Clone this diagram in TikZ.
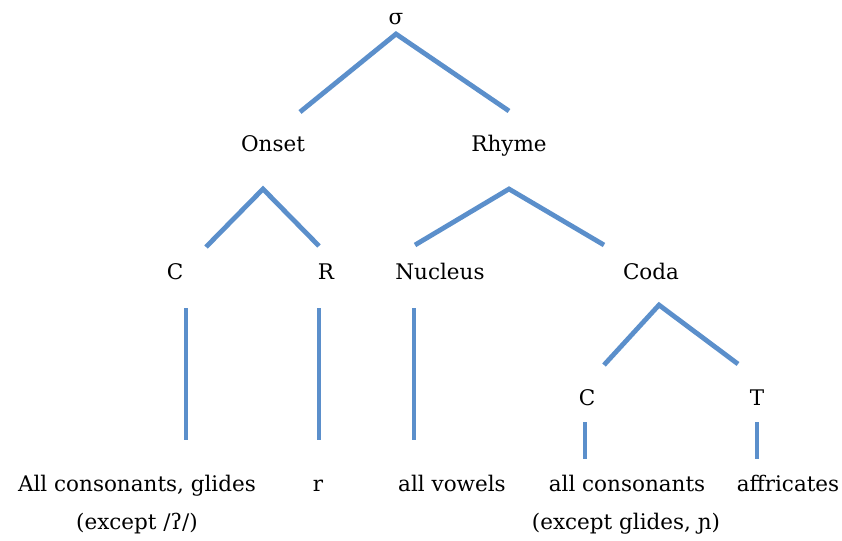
\documentclass[tikz,border=0pt]{standalone}
\usepackage{fontspec}
\setmainfont{DejaVu Serif}
\begin{document}
\begin{tikzpicture}[x=1pt,y=-1pt]
\definecolor{treeblue}{HTML}{5B8FCB}
\tikzset{
  branch/.style={draw=treeblue, line width=4.8pt},
  lbl/.style={inner sep=0pt, font=\fontsize{21.5}{24}\selectfont, anchor=base},
}
\useasboundingbox (0,0) rectangle (842,540);

% labels
\node[lbl] (sigma) at (396,25) {σ};
\node[lbl] (onset) at (273,152) {Onset};
\node[lbl] (rhyme) at (509,152) {Rhyme};
\node[lbl] (c1) at (175,279) {C};
\node[lbl] (r1) at (326,279) {R};
\node[lbl] (nuc) at (440,279) {Nucleus};
\node[lbl] (coda) at (651,279) {Coda};
\node[lbl] (c2) at (587,405) {C};
\node[lbl] (t2) at (757,405) {T};
\node[lbl] (allc) at (137,491) {All consonants, glides};
\node[lbl] (exc1) at (137,529) {(except /ʔ/)};
\node[lbl] (rr) at (318,491) {r};
\node[lbl] (vow) at (452,491) {all vowels};
\node[lbl] (allc2) at (627,491) {all consonants};
\node[lbl] (aff) at (788,491) {affricates};
\node[lbl] (exc2) at (626,529) {(except glides, ɲ)};

% branch points
\coordinate (sA) at (396,34);
\coordinate (sL) at (300,112);
\coordinate (sR) at (509,111);
\coordinate (oA) at (263,189);
\coordinate (oL) at (206,247);
\coordinate (oR) at (319,246);
\coordinate (rA) at (509,189);
\coordinate (rL) at (415,245);
\coordinate (rR) at (604,245);
\coordinate (cA) at (659,305);
\coordinate (cL) at (604,365);
\coordinate (cR) at (738,364);

\draw[branch] (sL) -- (sA) -- (sR);
\draw[branch] (oL) -- (oA) -- (oR);
\draw[branch] (rL) -- (rA) -- (rR);
\draw[branch] (cL) -- (cA) -- (cR);

% vertical association lines
\draw[branch] (186,308) -- (186,440);
\draw[branch] (319,308) -- (319,440);
\draw[branch] (414,308) -- (414,440);
\draw[branch] (585,422) -- (585,459);
\draw[branch] (757,422) -- (757,459);
\end{tikzpicture}
\end{document}
